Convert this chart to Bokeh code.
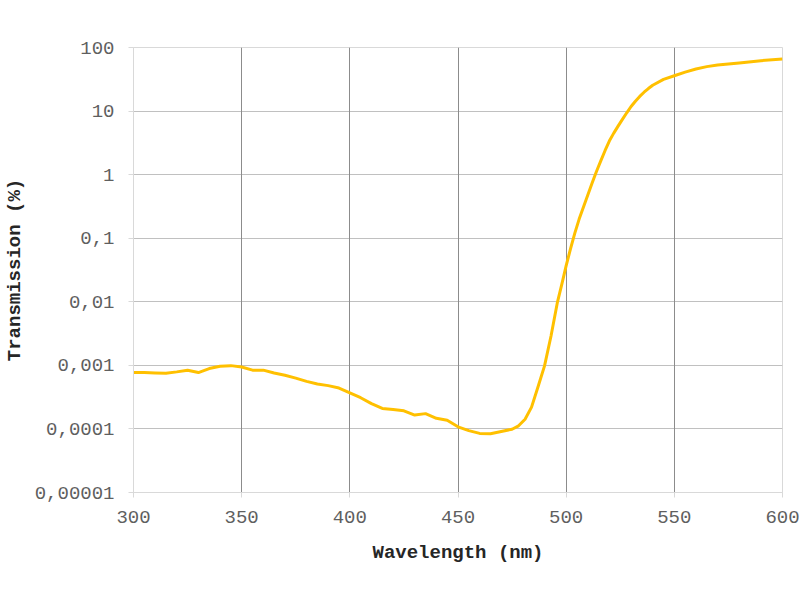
from bokeh.plotting import figure
from bokeh.models import Range1d, FixedTicker, Grid, CustomJSTickFormatter
from bokeh.embed import file_html
from bokeh.resources import INLINE

wavelength = [300, 305, 310, 315, 320, 325, 330, 335, 340, 345, 350, 355, 360, 365, 370,
              375, 380, 385, 390, 395, 400, 405, 410, 415, 420, 425, 430, 435, 440, 445,
              450, 455, 460, 465, 470, 475, 478, 481, 484, 487, 490, 493, 496, 498, 500,
              502, 504, 506, 508, 510, 512, 514, 516, 518, 520, 522, 524, 526, 528, 530,
              532, 534, 536, 538, 540, 545, 550, 555, 560, 565, 570, 575, 580, 590, 600]
transmission = [0.00077, 0.00077, 0.00076, 0.00075, 0.00079, 0.00084, 0.00077, 0.00089,
                0.00097, 0.00099, 0.00094, 0.00084, 0.00084, 0.00076, 0.00070, 0.00063,
                0.00056, 0.00051, 0.00048, 0.00044, 0.00037, 0.00031, 0.00025, 0.00021,
                0.000202, 0.000193, 0.000165, 0.000174, 0.000147, 0.000137, 0.000108,
                0.000094, 0.000085, 0.000084, 0.000091, 0.000099, 0.000112, 0.000142,
                0.00022, 0.00046, 0.00098, 0.0029, 0.01, 0.019, 0.037,
                0.068, 0.12, 0.2, 0.31, 0.48, 0.74, 1.12, 1.65, 2.4, 3.4, 4.5, 5.8, 7.4,
                9.4, 11.8, 14.3, 17.0, 19.8, 22.6, 25.5, 31.5, 36, 41, 46, 50, 53, 55,
                57, 62, 66]

x_ticks = [300, 350, 400, 450, 500, 550, 600]
y_ticks = [0.00001, 0.0001, 0.001, 0.01, 0.1, 1, 10, 100]
y_tick_labels = ["0,00001", "0,0001", "0,001", "0,01", "0,1", "1", "10", "100"]

FONT = "Liberation Mono"

p = figure(width=800, height=600, output_backend="svg", toolbar_location=None,
           y_axis_type="log", x_range=Range1d(300, 600), y_range=Range1d(1e-5, 100),
           min_border_left=132, min_border_right=18, min_border_top=47, min_border_bottom=108)
p.background_fill_color = "white"
p.border_fill_color = "white"
p.outline_line_color = "#d9d9d9"

p.xaxis.ticker = FixedTicker(ticks=x_ticks)
p.yaxis.ticker = FixedTicker(ticks=y_ticks)
p.yaxis.formatter = CustomJSTickFormatter(args=dict(tvals=y_ticks, tlabels=y_tick_labels), code="""
const i = tvals.findIndex(t => Math.abs(Math.log10(t) - Math.log10(tick)) < 1e-6);
return i >= 0 ? tlabels[i] : '';
""")

p.xgrid.visible = False
p.ygrid.grid_line_color = "#c0c0c0"
p.ygrid.grid_line_width = 1
vgrid = Grid(dimension=0, ticker=FixedTicker(ticks=[350, 400, 450, 500, 550]),
             grid_line_color="#8c8c8c", grid_line_width=1)
p.add_layout(vgrid)

for ax in (p.xaxis, p.yaxis):
    ax.axis_line_color = "#d9d9d9"
    ax.major_tick_line_color = "#d9d9d9"
    ax.major_tick_out = 5
    ax.major_tick_in = 0
    ax.minor_tick_line_color = None
    ax.major_label_text_font = FONT
    ax.major_label_text_font_size = "19px"
    ax.major_label_text_color = "#5f5f5f"
    ax.axis_label_text_font = FONT
    ax.axis_label_text_font_size = "19px"
    ax.axis_label_text_font_style = "bold"
    ax.axis_label_text_color = "#262626"

p.xaxis.axis_label = "Wavelength (nm)"
p.yaxis.axis_label = "Transmission (%)"
p.xaxis.major_label_standoff = 13
p.yaxis.major_label_standoff = 14
p.xaxis.axis_label_standoff = 16
p.yaxis.axis_label_standoff = 6

p.line(wavelength, transmission, line_color="#FFC000", line_width=3, line_join="round")

open("out.html", "w").write(file_html(p, INLINE))
